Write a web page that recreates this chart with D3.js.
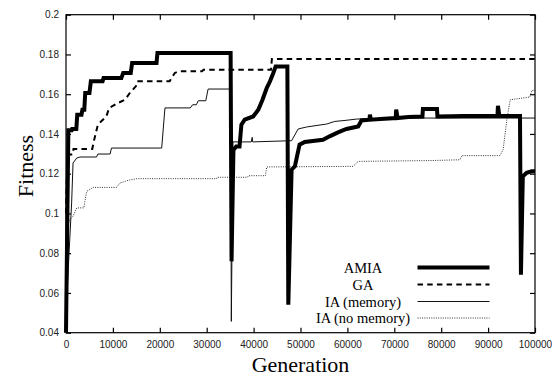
<!DOCTYPE html>
<html><head><meta charset="utf-8">
<script src="https://cdn.jsdelivr.net/npm/d3@7/dist/d3.min.js"></script>
<style>body{margin:0;background:#fff;} svg{display:block;}</style>
</head><body>
<svg id="c" width="558" height="376"></svg>
<script>
const seriesNames = ["AMIA", "GA", "IA (memory)", "IA (no memory)"];
const xTicks = [0,10000,20000,30000,40000,50000,60000,70000,80000,90000,100000];
const yTicks = [0.04,0.06,0.08,0.1,0.12,0.14,0.16,0.18,0.2];
const yTickLabels = ["0.04","0.06","0.08","0.1","0.12","0.14","0.16","0.18","0.2"];

const amia = [[0,0.04],[500,0.1418],[1200,0.1418],[1300,0.1425],[2200,0.1425],[2400,0.1497],[3300,0.1497],[3500,0.1522],[3900,0.1522],[4100,0.1606],[5000,0.1606],[5300,0.1665],[7800,0.1665],[8000,0.1681],[11800,0.1681],[12200,0.1707],[13800,0.1707],[14100,0.1757],[19300,0.1757],[19500,0.1807],[35100,0.1807],[35300,0.0759],[35700,0.132],[36300,0.1337],[37000,0.1337],[37400,0.1447],[38100,0.1472],[39900,0.1488],[41000,0.1522],[41900,0.1572],[42800,0.1631],[43500,0.1665],[44200,0.1707],[44700,0.174],[47200,0.174],[47400,0.0541],[48100,0.122],[48800,0.1237],[49800,0.1346],[50900,0.136],[54800,0.1371],[56200,0.1388],[58000,0.1408],[59800,0.1425],[62300,0.1438],[63000,0.1468],[64700,0.1472],[64800,0.1497],[65000,0.1472],[67000,0.1475],[70300,0.148],[70400,0.1522],[70700,0.148],[73000,0.1485],[76000,0.1488],[76100,0.1526],[79100,0.1526],[79200,0.1488],[85000,0.149],[92000,0.1492],[92100,0.1542],[92400,0.149],[96800,0.149],[97000,0.0692],[97400,0.1187],[98200,0.1204],[99300,0.1212],[100000,0.1212]];
const ga = [[0,0.1],[300,0.1296],[1400,0.1296],[1600,0.1324],[5600,0.1324],[6000,0.137],[6800,0.1447],[8600,0.1488],[9200,0.153],[11100,0.1556],[12600,0.1572],[13600,0.1606],[14900,0.164],[15200,0.1665],[22100,0.1665],[23200,0.1707],[24000,0.1715],[29000,0.1715],[29300,0.1723],[43700,0.1723],[43900,0.1777],[100000,0.1777]];
const iaMem = [[0,0.05],[1200,0.1053],[1500,0.1254],[2300,0.1279],[3000,0.1284],[6500,0.1284],[6800,0.1299],[9400,0.1299],[9700,0.1329],[20400,0.1329],[21100,0.1531],[26500,0.1531],[27000,0.1547],[27800,0.1547],[28200,0.1567],[29800,0.1567],[30300,0.1626],[35100,0.1626],[35250,0.0457],[35600,0.136],[39500,0.136],[39700,0.1383],[39800,0.136],[48100,0.1366],[49500,0.1425],[51300,0.1435],[55600,0.145],[57300,0.1463],[59500,0.1468],[62000,0.1475],[70000,0.148],[100000,0.148]];
const iaNoMem = [[0,0.085],[300,0.0935],[800,0.0969],[1500,0.0986],[2300,0.1028],[3800,0.1028],[4400,0.1111],[5800,0.1131],[10800,0.1131],[11500,0.1153],[13300,0.1167],[15100,0.1175],[32100,0.1175],[32200,0.1182],[38700,0.1182],[38900,0.119],[42500,0.119],[42800,0.1234],[61200,0.1237],[62300,0.1262],[77600,0.1266],[84000,0.127],[84400,0.1291],[92500,0.1291],[93200,0.132],[94000,0.1472],[94700,0.1572],[98900,0.1586],[99300,0.1618],[100000,0.162]];

const svg = d3.select("#c");
const L = 66, R = 535, T = 14.7, B = 332.7;
const x = d3.scaleLinear().domain([0,100000]).range([L,R]);
const y = d3.scaleLinear().domain([0.04,0.2]).range([B,T]);

const styles = [
  {data: amia, stroke:"#000", w:4, dash:null},
  {data: ga, stroke:"#000", w:2, dash:"5.5,4.2"},
  {data: iaMem, stroke:"#111", w:1, dash:null},
  {data: iaNoMem, stroke:"#333", w:1, dash:"1,1.3"}
];

const line = d3.line().x(d=>x(d[0])).y(d=>y(d[1]));
[3,2,1,0].forEach(i=>{
  const s = styles[i];
  svg.append("path").attr("d", line(s.data)).attr("fill","none")
    .attr("stroke", s.stroke).attr("stroke-width", s.w)
    .attr("stroke-dasharray", s.dash).attr("stroke-linejoin","miter");
});

svg.append("rect").attr("x",L).attr("y",T).attr("width",R-L).attr("height",B-T)
  .attr("fill","none").attr("stroke","#000").attr("stroke-width",1.2);

const fontTick = "'Liberation Sans', Arial, sans-serif";
const axB = d3.axisBottom(x).tickValues(xTicks).tickSize(-5).tickPadding(8).tickFormat(d3.format("d"));
const gB = svg.append("g").attr("transform",`translate(0,${B})`).call(axB);
const axT = d3.axisTop(x).tickValues(xTicks).tickSize(-5).tickFormat("");
const gT = svg.append("g").attr("transform",`translate(0,${T})`).call(axT);
const axLf = d3.axisLeft(y).tickValues(yTicks).tickSize(-5).tickPadding(7).tickFormat((d,i)=>yTickLabels[i]);
const gL = svg.append("g").attr("transform",`translate(${L},0)`).call(axLf);
const axRt = d3.axisRight(y).tickValues(yTicks).tickSize(-5).tickFormat("");
const gR = svg.append("g").attr("transform",`translate(${R},0)`).call(axRt);
[gB,gT,gL,gR].forEach(g=>{
  g.select(".domain").remove();
  g.selectAll(".tick line").attr("stroke","#000").attr("stroke-width",1.2);
  g.selectAll(".tick text").attr("font-family",fontTick).attr("font-size","10px").attr("fill","#222");
});

svg.append("text").attr("x",300.5).attr("y",372).attr("text-anchor","middle")
  .attr("font-family","'Liberation Serif','Times New Roman',serif").attr("font-size","22px").text("Generation");
svg.append("text").attr("transform","translate(33,166) rotate(-90)").attr("text-anchor","middle")
  .attr("font-family","'Liberation Serif','Times New Roman',serif").attr("font-size","22px").text("Fitness");

const legY = [267.5, 284.5, 301.5, 318];
seriesNames.forEach((n,i)=>{
  svg.append("text").attr("x",363).attr("y",legY[i]+5).attr("text-anchor","middle")
    .attr("font-family","'Liberation Serif','Times New Roman',serif").attr("font-size","14.5px").text(n);
  const s = styles[i];
  svg.append("line").attr("x1",417.5).attr("x2",489.5).attr("y1",legY[i]).attr("y2",legY[i])
    .attr("stroke",s.stroke).attr("stroke-width",s.w).attr("stroke-dasharray",s.dash);
});
</script>
</body></html>
